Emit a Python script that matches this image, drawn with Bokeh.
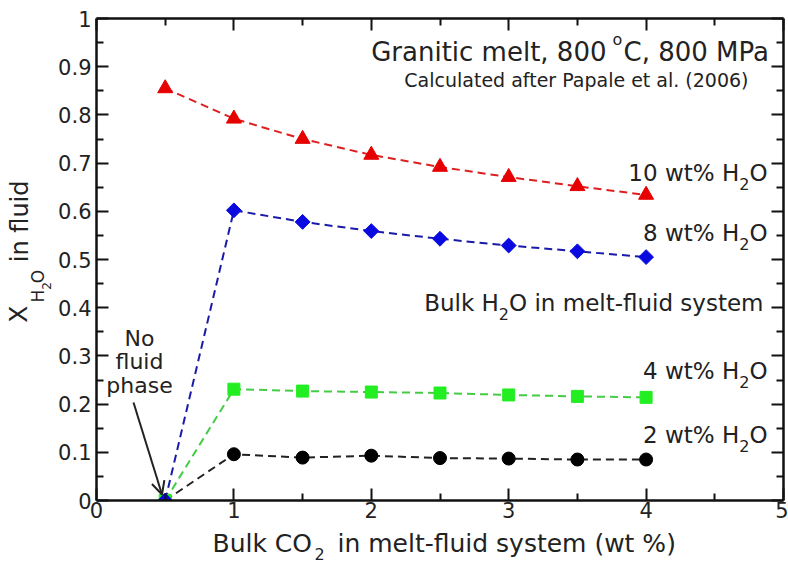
import math
from bokeh.plotting import figure
from bokeh.layouts import column, row
from bokeh.models import Range1d, FixedTicker, LinearAxis, Label, Arrow, OpenHead
from bokeh.embed import file_html
from bokeh.resources import INLINE

# ---------------- data ----------------
bulk_co2 = [0.5, 1.0, 1.5, 2.0, 2.5, 3.0, 3.5, 4.0]
xh2o_10wt = [0.855, 0.792, 0.750, 0.717, 0.692, 0.671, 0.652, 0.634]
xh2o_8wt = [0.0, 0.602, 0.578, 0.559, 0.543, 0.529, 0.517, 0.505]
xh2o_4wt = [0.0, 0.231, 0.227, 0.225, 0.223, 0.219, 0.216, 0.214]
xh2o_2wt = [0.0, 0.096, 0.089, 0.093, 0.088, 0.087, 0.085, 0.085]

x_ticks = [0, 1, 2, 3, 4, 5]
x_minor = [0.5, 1.5, 2.5, 3.5, 4.5]
x_tick_labels = ["0", "1", "2", "3", "4", "5"]
y_ticks = [0, 0.1, 0.2, 0.3, 0.4, 0.5, 0.6, 0.7, 0.8, 0.9, 1.0]
y_minor = [0.05, 0.15, 0.25, 0.35, 0.45, 0.55, 0.65, 0.75, 0.85, 0.95]
y_tick_labels = ["0", "0.1", "0.2", "0.3", "0.4", "0.5", "0.6", "0.7", "0.8", "0.9", "1"]

FONT = "DejaVu Sans"
TXT = "#222222"
K = 0.34  # baseline correction (fraction of font size) observed for Label text

# page geometry (pixels)
LEFT_W = 54          # width of the y-title strip
TOP_H = 526          # height of the upper row
FR_L, FR_R, FR_T, FR_B = 96, 783, 18, 500

p = figure(width=788 - LEFT_W, height=TOP_H, x_range=Range1d(0, 5), y_range=Range1d(0, 1),
           output_backend="svg", toolbar_location=None,
           x_axis_location=None, y_axis_location=None,
           min_border_left=FR_L - LEFT_W, min_border_right=788 - FR_R,
           min_border_top=FR_T, min_border_bottom=TOP_H - FR_B)
p.xgrid.visible = False
p.ygrid.visible = False
p.outline_line_color = None
p.background_fill_color = "white"
p.border_fill_color = "white"


def style_axis(ax, ticks, minor, labels, show, standoff=4):
    ax.ticker = FixedTicker(ticks=ticks, minor_ticks=minor)
    ax.axis_line_width = 2.5
    ax.axis_line_color = "#111111"
    ax.major_tick_in = 12
    ax.major_tick_out = 0
    ax.minor_tick_in = 7
    ax.minor_tick_out = 0
    ax.major_tick_line_width = 2
    ax.minor_tick_line_width = 2
    ax.major_tick_line_color = "#111111"
    ax.minor_tick_line_color = "#111111"
    if show:
        ax.major_label_overrides = {t: l for t, l in zip(ticks, labels)}
        ax.major_label_text_font = FONT
        ax.major_label_text_font_size = "21px"
        ax.major_label_text_color = TXT
        ax.major_label_standoff = standoff
    else:
        ax.major_label_overrides = {t: "" for t in ticks}
        ax.major_label_text_font_size = "1px"
        ax.major_label_text_color = None
        ax.major_label_standoff = 0


xb = LinearAxis()
style_axis(xb, x_ticks, x_minor, x_tick_labels, True, standoff=1)
p.add_layout(xb, "below")
xt = LinearAxis()
style_axis(xt, x_ticks, x_minor, x_tick_labels, False)
p.add_layout(xt, "above")
yl = LinearAxis()
style_axis(yl, y_ticks, y_minor, y_tick_labels, True, standoff=5)
p.add_layout(yl, "left")
yr = LinearAxis()
style_axis(yr, y_ticks, y_minor, y_tick_labels, False)
p.add_layout(yr, "right")

# ---------------- series ----------------
DASH = "8 5"
p.line(bulk_co2, xh2o_10wt, line_color="#dd1f1f", line_width=2, line_dash=DASH)
p.line(bulk_co2, xh2o_8wt, line_color="#1a1aa8", line_width=2, line_dash=DASH)
p.line(bulk_co2, xh2o_4wt, line_color="#44cc44", line_width=2, line_dash=DASH)
p.line(bulk_co2, xh2o_2wt, line_color="#222222", line_width=2, line_dash=DASH)

p.scatter(bulk_co2, xh2o_10wt, marker="triangle", size=15,
          fill_color="#e60000", line_color="#e60000")
p.scatter(bulk_co2[1:], xh2o_2wt[1:], marker="circle", size=13,
          fill_color="#000000", line_color="#000000")
p.scatter(bulk_co2, xh2o_4wt, marker="square", size=12,
          fill_color="#22ee22", line_color="#22ee22")
p.scatter(bulk_co2, xh2o_8wt, marker="square", angle=math.pi / 4, size=10.5,
          fill_color="#0a0ae0", line_color="#0a0ae0")


# ---------------- text placement helpers (page pixels) ----------------
def main_conv(px, py):
    return (px - FR_L) / (FR_R - FR_L) * 5, (FR_B - py) / (FR_B - FR_T)


def page_conv(px, py):
    return px, py


def lab(fig, conv, px, py, text, size, align="left", angle=0.0, color=TXT):
    # (px, py) is the wanted baseline position on the page
    if angle == 0.0:
        py = py - K * size
    else:
        px = px - K * size
    x, y = conv(px, py)
    fig.add_layout(Label(x=x, y=y, text=text, text_font=FONT,
                         text_font_size=f"{size}px", text_align=align,
                         text_baseline="alphabetic", angle=angle,
                         text_color=color))


def mlab(px, py, text, size, align="left"):
    lab(p, main_conv, px, py, text, size, align)


# title
mlab(606, 60, "Granitic melt, 800", 26, "right")
mlab(612, 44, "o", 16, "left")
mlab(623, 60, "C, 800 MPa", 26, "left")
mlab(748, 86, "Calculated after Papale et al. (2006)", 19, "right")


def h2o_label(right, base, main, fs=23, sfs=16):
    w_o = 0.787 * fs
    w_2 = 0.636 * sfs
    mlab(right, base, "O", fs, "right")
    mlab(right - w_o, base + 9, "2", sfs, "right")
    mlab(right - w_o - w_2, base, main, fs, "right")


h2o_label(767, 180, "10 wt% H")
h2o_label(767, 240, "8 wt% H")
h2o_label(767, 378, "4 wt% H")
h2o_label(767, 442, "2 wt% H")

fs = 23
tail = "O in melt-fluid system"
w_tail = 11.065 * fs
mlab(763, 310, tail, fs, "right")
mlab(763 - w_tail, 319, "2", 16, "right")
mlab(763 - w_tail - 0.636 * 16, 310, "Bulk H", fs, "right")

mlab(139, 345, "No", 22, "center")
mlab(139, 368, "fluid", 22, "center")
mlab(139, 392, "phase", 22, "center")
ax0, ay0 = main_conv(133, 402)
ax1, ay1 = main_conv(161.5, 494)
p.add_layout(Arrow(end=OpenHead(size=13, line_width=2, line_color="#222222"),
                   x_start=ax0, y_start=ay0, x_end=ax1, y_end=ay1,
                   line_width=2, line_color="#222222"))


# ---------------- axis-title strips (data units = page pixels) ----------------
def strip(w, h, x0, y0):
    f = figure(width=w, height=h, x_range=Range1d(x0, x0 + w), y_range=Range1d(y0 + h, y0),
               output_backend="svg", toolbar_location=None,
               x_axis_location=None, y_axis_location=None,
               min_border=0, min_border_left=0, min_border_right=0,
               min_border_top=0, min_border_bottom=0)
    f.xgrid.visible = False
    f.ygrid.visible = False
    f.outline_line_color = None
    f.background_fill_color = "white"
    f.border_fill_color = "white"
    return f


ylab = strip(LEFT_W, TOP_H, 0, 0)
A = math.pi / 2
lab(ylab, page_conv, 26, 332, "X", 25, "left", A)
lab(ylab, page_conv, 43, 310, "H", 17, "left", A)
lab(ylab, page_conv, 50, 296, "2", 12, "left", A)
lab(ylab, page_conv, 43, 289, "O", 17, "left", A)
lab(ylab, page_conv, 28, 266, "in fluid", 24, "left", A)

xlab = strip(788, 564 - TOP_H, 0, TOP_H)
lab(xlab, page_conv, 212, 551, "Bulk CO", 25, "left")
lab(xlab, page_conv, 314, 559, "2", 16, "left")
lab(xlab, page_conv, 337, 551, "in melt-fluid system (wt %)", 25, "left")

layout = column(row(ylab, p), xlab)
open("out.html", "w").write(file_html(layout, INLINE))
